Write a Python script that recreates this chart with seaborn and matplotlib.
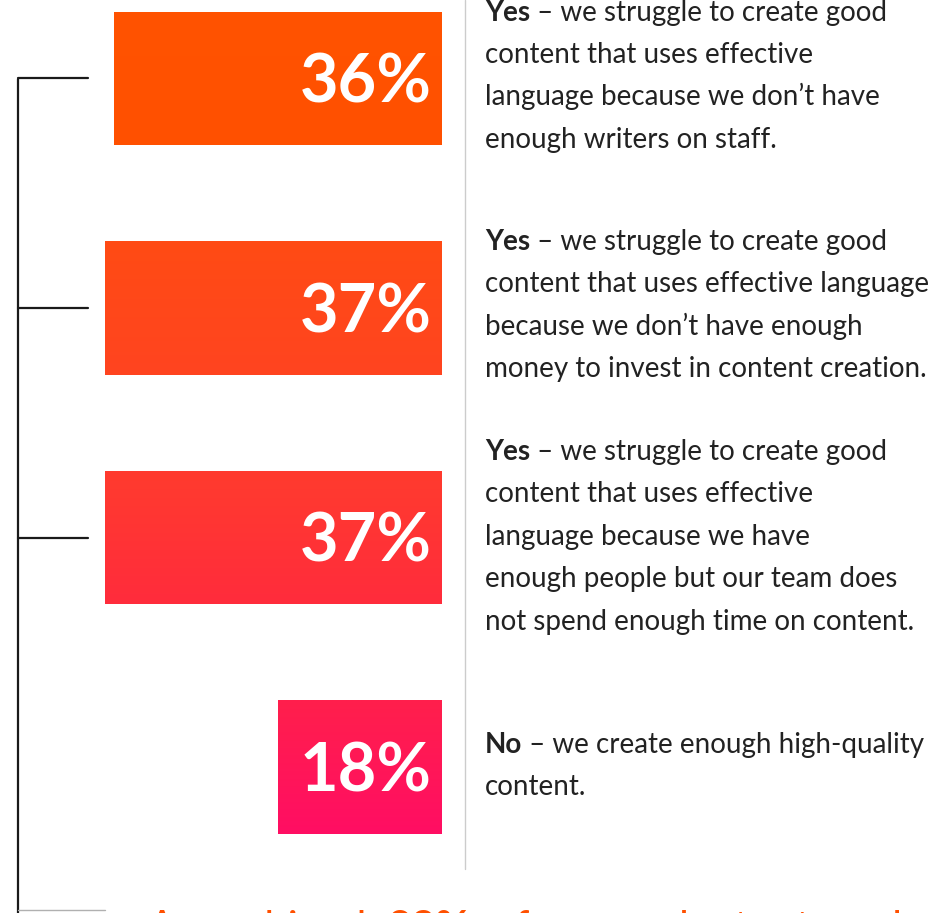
import numpy as np
import pandas as pd
import matplotlib
matplotlib.use('Agg')
import matplotlib.pyplot as plt
from matplotlib.colors import LinearSegmentedColormap
import seaborn as sns

# data
answers = ['Yes - not enough writers', 'Yes - not enough money', 'Yes - not enough time', 'No']
shares = [36, 37, 37, 18]
top_colors = ['#FF5300', '#FF4B14', '#FF3B2E', '#FF1F4C']
bottom_colors = ['#FF5000', '#FF4420', '#FF2C3C', '#FF0E63']
lead_words = ['Yes', 'Yes', 'Yes', 'No']
answer_lines = [
    ['we struggle to create good', 'content that uses effective',
     'language because we don\u2019t have', 'enough writers on staff.'],
    ['we struggle to create good', 'content that uses effective language',
     'because we don\u2019t have enough', 'money to invest in content creation.'],
    ['we struggle to create good', 'content that uses effective',
     'language because we have', 'enough people but our team does',
     'not spend enough time on content.'],
    ['we create enough high-quality', 'content.'],
]
combined_share = 100 - shares[3]

W, H = 939, 913
ORANGE = '#FF5000'
INK = '#222222'

sns.set_theme(style='white')
plt.rcParams['font.family'] = ['Lato', 'DejaVu Sans']

df = pd.DataFrame({'answer': answers, 'share': shares})

fig = plt.figure(figsize=(W / 100, H / 100), dpi=100)
ax = fig.add_axes([0, 0, 1, 1])
sns.barplot(data=df, x='share', y='answer', order=answers, orient='h',
            color=ORANGE, width=0.58, ax=ax)

# gradient fill clipped to each bar
for patch, c0, c1 in zip(ax.patches, top_colors, bottom_colors):
    x0, y0 = patch.get_x(), patch.get_y()
    w, h = patch.get_width(), patch.get_height()
    cmap = LinearSegmentedColormap.from_list('g', [c0, c1])
    grad = np.linspace(0, 1, 64).reshape(-1, 1)
    im = ax.imshow(grad, cmap=cmap, aspect='auto', origin='upper',
                   extent=(x0, x0 + w, y0 + h, y0), zorder=2)
    im.set_clip_path(patch)
    patch.set_facecolor(c0)
    patch.set_edgecolor('none')

# pixel mapping: value 0 at x=442px, 9.1 px per point; bar i centred at 78.5 + 229.5*i px
px_per = 9.1
ax.set_xlim(442 / px_per, (442 - W) / px_per)
ax.set_ylim((H - 78.5) / 229.5, -78.5 / 229.5)
ax.set_axis_off()

for i, v in enumerate(shares):
    ax.text(1.15, i + 0.105, f'{v}%', ha='right', va='baseline', color='white',
            fontsize=48, fontweight='bold', zorder=5)


def fy(py):
    return 1 - py / H


def fx(px):
    return px / W


# bracket on the left
ax.plot([fx(17.5), fx(17.5)], [fy(79), fy(H + 5)], transform=fig.transFigure,
        color='#1a1a1a', lw=1.6, clip_on=False)
for i in range(3):
    y = fy(78.5 + 229.5 * i)
    ax.plot([fx(17.5), fx(88)], [y, y], transform=fig.transFigure,
            color='#1a1a1a', lw=1.6, clip_on=False)
ax.plot([fx(17.5), fx(105)], [fy(910), fy(910)], transform=fig.transFigure,
        color='#b0b0b0', lw=1, clip_on=False)

# separator
ax.plot([fx(465), fx(465)], [fy(0), fy(869)], transform=fig.transFigure,
        color='#cccccc', lw=1, clip_on=False)

# answer texts
first_baselines = [20.7, 250, 460, 753]
line_step = 42.4
for word, lines, b0 in zip(lead_words, answer_lines, first_baselines):
    t = fig.text(fx(485), fy(b0), word, fontsize=20, fontweight='bold',
                 color=INK, ha='left', va='baseline')
    ax.annotate(' \u2013 ' + lines[0], xy=(1, 0), xycoords=t, xytext=(0, 0),
                textcoords='offset points', fontsize=20, color=INK,
                ha='left', va='bottom', annotation_clip=False)
    for k, line in enumerate(lines[1:], start=1):
        fig.text(fx(485), fy(b0 + k * line_step), line, fontsize=20,
                 color=INK, ha='left', va='baseline')

# bottom callout (cropped by the frame, as in the source layout)
t1 = fig.text(fx(148), fy(941), 'A combined  ', fontsize=30, color=ORANGE,
              ha='left', va='baseline')
t2 = ax.annotate(f'{combined_share}%', xy=(1, 0), xycoords=t1, fontsize=30,
                 fontweight='bold', color=ORANGE, ha='left', va='bottom',
                 annotation_clip=False)
ax.annotate('  of respondents struggle to create', xy=(1, 0), xycoords=t2,
            fontsize=30, color=ORANGE, ha='left', va='bottom',
            annotation_clip=False)

fig.savefig('out.png', dpi=100, facecolor='white')
